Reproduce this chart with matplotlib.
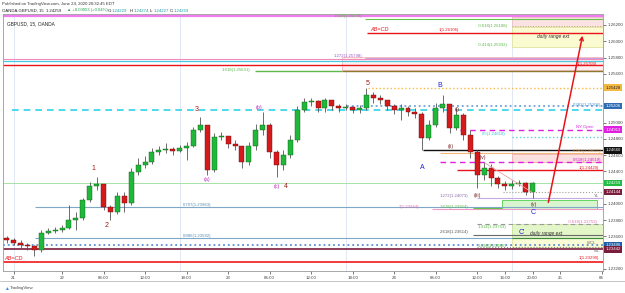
import numpy as np
import matplotlib
matplotlib.use('Agg')
import matplotlib.pyplot as plt
import matplotlib.transforms as mtransforms
from matplotlib.patches import Rectangle

plt.rcParams['font.family'] = ['Liberation Sans', 'DejaVu Sans']

# hourly bars, hours counted from 22 Jun 00:00 (chart time)
hours = list(range(-8, 69))
first_open = 1.23580
highs = [1.23605, 1.23580, 1.23556, 1.23519, 1.23494, 1.23679, 1.23704, 1.23716, 1.23741, 1.23987,
         1.23901, 1.24073, 1.24270, 1.24331, 1.24233, 1.23987, 1.24147, 1.24147, 1.24442, 1.24565,
         1.24589, 1.24688, 1.24712, 1.24749, 1.24700, 1.24725, 1.24761, 1.24946, 1.25069, 1.24970,
         1.24872, 1.24884, 1.24811, 1.24786, 1.24688, 1.24761, 1.24983, 1.25130, 1.24995, 1.24663,
         1.24663, 1.24847, 1.25204, 1.25302, 1.25302, 1.25278, 1.25302, 1.25253, 1.25229, 1.25229,
         1.25204, 1.25216, 1.25425, 1.25376, 1.25339, 1.25278, 1.25229, 1.25229, 1.25204, 1.25180,
         1.25130, 1.25032, 1.25241, 1.25339, 1.25229, 1.25180, 1.25118, 1.24909, 1.24663, 1.24515,
         1.24491, 1.24343, 1.24282, 1.24294, 1.24294, 1.24270, 1.24270]
lows = [1.23519, 1.23494, 1.23457, 1.23433, 1.23359, 1.23408, 1.23630, 1.23642, 1.23654, 1.23691,
        1.23679, 1.23802, 1.24024, 1.24171, 1.23925, 1.23802, 1.23876, 1.23901, 1.23987, 1.24355,
        1.24442, 1.24491, 1.24602, 1.24626, 1.24602, 1.24638, 1.24540, 1.24700, 1.24884, 1.24355,
        1.24392, 1.24786, 1.24688, 1.24663, 1.24442, 1.24478, 1.24663, 1.24847, 1.24565, 1.24331,
        1.24417, 1.24565, 1.24761, 1.25130, 1.25204, 1.25130, 1.25130, 1.25155, 1.25130, 1.25155,
        1.25118, 1.25118, 1.25155, 1.25241, 1.25229, 1.25155, 1.25106, 1.25032, 1.25081, 1.25057,
        1.24663, 1.24786, 1.24946, 1.25130, 1.24872, 1.24909, 1.24786, 1.24565, 1.24196, 1.24294,
        1.24220, 1.24196, 1.24171, 1.24183, 1.24220, 1.24110, 1.24073]
closes = [1.23556, 1.23519, 1.23494, 1.23482, 1.23433, 1.23642, 1.23667, 1.23679, 1.23704, 1.23802,
          1.23827, 1.24048, 1.24220, 1.24245, 1.23962, 1.23901, 1.24097, 1.24011, 1.24392, 1.24478,
          1.24515, 1.24638, 1.24663, 1.24675, 1.24651, 1.24688, 1.24712, 1.24909, 1.24970, 1.24417,
          1.24823, 1.24835, 1.24737, 1.24712, 1.24515, 1.24712, 1.24909, 1.24970, 1.24638, 1.24478,
          1.24602, 1.24786, 1.25155, 1.25253, 1.25266, 1.25180, 1.25278, 1.25204, 1.25180, 1.25192,
          1.25155, 1.25180, 1.25339, 1.25302, 1.25278, 1.25204, 1.25155, 1.25180, 1.25130, 1.25106,
          1.24811, 1.24970, 1.25180, 1.25229, 1.24934, 1.25093, 1.24847, 1.24638, 1.24355, 1.24442,
          1.24319, 1.24245, 1.24220, 1.24245, 1.24257, 1.24147, 1.24259]
opens = [first_open] + closes[:-1]

# horizontal levels: price, start hour
lvl_price = [1.26305, 1.26274, 1.26106, 1.25798, 1.25777, 1.25752, 1.25703, 1.25428, 1.25206,
             1.25149, 1.24913, 1.24818, 1.24660, 1.24627, 1.24519, 1.24420, 1.24259, 1.24144,
             1.24073, 1.23962, 1.23937, 1.23753, 1.23614, 1.23580, 1.23496, 1.23465, 1.23442, 1.23290]
lvl_start = [-9, 43.8, 44.1, 43.8, -9, -9, -9, 44.2, 41.2,
             -7.2, 57.5, 65.0, 52.2, 54.6, 54.6, 57.1, -9, 63.7,
             60.0, -3.9, 53.5, 60.0, 59.4, -3.9, -9, 60.0, -9, -9]
lvl_style = [('#f07cf0', '-', 1.6), ('#66c04a', '-', 0.8), ('#e8141a', '-', 1.0), ('#c9a0e0', '-', 0.8),
             ('#f08ab8', '-', 0.8), ('#47c9e0', '-', 0.9), ('#e8141a', '-', 1.0), ('#f5b942', ':', 1.0),
             ('#6fa0d8', ':', 1.3), ('#2ed3e8', (0, (4, 3)), 1.2), ('#e020e0', (0, (4, 3)), 1.0),
             ('#5fd0e0', ':', 1.0), ('#111111', '-', 1.0), ('#f4b77a', '-', 0.8),
             ('#e020e0', (0, (4, 3)), 1.0), ('#e8141a', '-', 1.0), ('#a6e3a6', '-', 0.7),
             ('#a0a0a0', ':', 0.8), ('#c8a8e0', '-', 0.8), ('#7fa8c8', '-', 0.8), ('#f09ac8', '-', 0.8),
             ('#9a9a9a', (0, (4, 3)), 0.8), ('#6a6a6a', '-', 0.8), ('#7fa8c8', '-', 0.8),
             ('#5b8fd0', ':', 1.3), ('#8a8a8a', ':', 0.8), ('#7a1c3c', '-', 1.2), ('#f01818', '-', 1.2)]

fib_text = ['1.618(1.26274)', '1(1.26106)', '1.272(1.25798)', '1.618(1.25631)', '0.382(1.25206)',
            '0.5(1.24818)', '0.382(1.24627)', '0.618(1.24519)', '1(1.24420)', '1.272(1.24073)',
            '1.618(1.23954)', '2(1.23944)', '0.707(1.23963)', '-0.618(1.23753)', '1.414(1.23763)',
            '2.618(1.23614)', '0.886(1.23592)', '1.618(1.23465)', '1(1.23290)', '-0.618(1.26188)',
            '-0.414(1.25932)', '1(1.25703)']
fib_h = [39.2, 54.4, 39.2, 23.1, 73.8, 60.7, 73.8, 73.8, 74.6, 54.6,
         54.6, 48.6, 17.5, 73.1, 60.1, 54.6, 17.5, 60.1, 74.6, 60.1, 60.1, 74.4]
fib_p = [1.26308, 1.26140, 1.25820, 1.25648, 1.25222, 1.24860, 1.24645, 1.24536, 1.24440, 1.24092,
         1.23962, 1.23962, 1.23985, 1.23780, 1.23718, 1.23653, 1.23610, 1.23480, 1.23330, 1.26188,
         1.25955, 1.25725]
fib_col = ['#5cb848', '#e8141a', '#9a5ac8', '#5cb848', '#4a90d0', '#3fc0d8', '#e09a50', '#d020d0',
           '#e8141a', '#8a6aa8', '#5cb848', '#e070b0', '#5a8ab0', '#e070b0', '#5cb848', '#555555',
           '#5a8ab0', '#5cb848', '#e8141a', '#5cb848', '#5cb848', '#e8141a']

# wave labels
wave_text = ['1', '2', '3', '4', '5', '(a)', '(b)', '(c)', 'A', 'B', 'C',
             '(i)', '(ii)', '(iii)', '(iv)', '(v)', "C'"]
wave_h = [4.5, 6.5, 19.5, 32.4, 44.1, 21.0, 28.5, 31.1, 52.0, 54.6, 68.1,
          57.1, 56.1, 60.0, 60.8, 68.1, 66.5]
wave_p = [1.24430, 1.23740, 1.25160, 1.24220, 1.25475, 1.24300, 1.25185, 1.24220, 1.24450, 1.25460, 1.23900,
          1.25160, 1.24700, 1.24100, 1.24570, 1.23993, 1.23645]
wave_col = ['#9b1b1b'] * 5 + ['#c020c0'] * 3 + ['#2020d0'] * 3 + ['#7b1f1f'] * 5 + ['#2020d0']

axis_ticks = [1.262, 1.260, 1.258, 1.256, 1.250, 1.248, 1.246, 1.244, 1.240, 1.238, 1.236, 1.232]
tag_price = [1.25428, 1.25206, 1.24913, 1.24660, 1.24259, 1.24144, 1.23496, 1.23442]
tag_col = ['#f5b942', '#2e6db4', '#e020e0', '#111111', '#22bb44', '#7a1c3c', '#1f5fa8', '#7a1c3c']

time_ticks = [-7, 0, 6, 12, 18, 24, 30, 36, 42, 48, 54, 60, 64, 68, 72, 78]
time_labels = ['21', '22', '06:00', '12:00', '18:00', '23', '06:00', '12:00', '18:00',
               '24', '06:00', '12:00', '16:00', '20:00', '25', '06']
session_breaks = [-7, 17, 41, 65]

trend_h = [61.1, 68.1]
trend_p = [1.24503, 1.24134]
arrow_from = (70.2, 1.23985)
arrow_to = (75.3, 1.26102)

W, H = 625, 293
fig = plt.figure(figsize=(W / 100, H / 100), dpi=100)
ax = fig.add_axes([3 / W, 1 - 271 / H, 600 / W, 257 / H])
x0, x1 = -8.53, 78.18
ax.set_xlim(x0, x1)
ax.set_ylim(1.23175, 1.26335)

for s in session_breaks:
    ax.axvline(s, color='#dde3f3', lw=0.6, zorder=0)

# boxes
def box(h0, h1, p0, p1, fc, ec, z=1):
    ax.add_patch(Rectangle((h0, p0), h1 - h0, p1 - p0, facecolor=fc, edgecolor=ec, lw=0.6, zorder=z))

box(65, x1, 1.26175, 1.26298, '#fbe3e3', '#eac0c0')
box(65, x1, 1.25929, 1.26175, '#fbfbd2', '#dfe6a0')
ax.hlines(1.26188, 65, x1, colors='#b8a860', linestyles=':', lw=0.7, zorder=2)
box(40.5, x1, 1.25642, 1.25802, '#fdf0f1', '#f2b6bd')
box(65, x1, 1.24515, 1.24610, '#fbe0e0', '#f0b0b0')
box(63.6, 77.3, 1.23937, 1.24048, '#d8f5d0', '#4cd04c', z=2)
box(65, x1, 1.23580, 1.23753, '#e2f6c8', '#c8e0a0')
box(65, x1, 1.23470, 1.23580, '#fafcd6', '#e0e6a8')

for p, st, (c, ls, lw) in zip(lvl_price, lvl_start, lvl_style):
    ax.hlines(p, max(st, x0), x1, colors=c, linestyles=ls, lw=lw, zorder=2)
# extra segments
ax.hlines(1.25631, 27.9, 40.5, colors='#5cb848', lw=1.0, zorder=2)
ax.hlines(1.25631, 40.5, x1, colors='#8a7a2a', lw=1.0, zorder=2)
ax.hlines(1.23954, 59.4, 63.6, colors='#66c04a', lw=0.8, zorder=2)
ax.hlines(1.23580, 65, x1, colors='#3c8c3c', lw=0.8, zorder=2)

# candles
for h, o, hi, lo, c in zip(hours, opens, highs, lows, closes):
    up = c >= o
    ax.vlines(h, lo, hi, color='#555555', lw=0.6, zorder=3)
    ax.add_patch(Rectangle((h - 0.36, min(o, c)), 0.72, max(abs(c - o), 0.00004),
                           facecolor='#1fb83a' if up else '#d41a1a',
                           edgecolor='#145a14' if up else '#6a0c0c', lw=0.3, zorder=4))

ax.plot(trend_h, trend_p, color='#f0a0a0', lw=0.6, zorder=5)
ax.annotate('', xy=arrow_to, xytext=arrow_from,
            arrowprops=dict(arrowstyle='->', color='#e8141a', lw=1.1, mutation_scale=6), zorder=6)

fs = 3.1
for t, h, p, c in zip(fib_text, fib_h, fib_p, fib_col):
    ax.text(h, p, t, fontsize=fs, color=c, ha='left', va='center', zorder=6)

ax.text(44.5, 1.26150, 'AB=CD', fontsize=4, color='#e8141a', style='italic', va='center', zorder=6)
ax.text(-8.3, 1.23325, 'AB=CD', fontsize=4, color='#e8141a', style='italic', va='center', zorder=6)
ax.text(71.0, 1.26055, 'daily range ext', fontsize=3.6, color='#333333', style='italic',
        ha='center', va='center', zorder=6)
ax.text(70.0, 1.23635, 'daily range ext', fontsize=3.6, color='#333333', style='italic',
        ha='center', va='center', zorder=6)
ax.text(75.5, 1.24940, 'NY Open', fontsize=fs, color='#e020e0', ha='center', va='center', zorder=6)
for t, h, p in [('YL', 77.3, 1.24100), ('WCL', 76.5, 1.23515), ('WL', 77.3, 1.23420)]:
    ax.text(h, p, t, fontsize=fs, color='#666666', ha='center', va='center', zorder=6)
ax.text(-7.9, 1.26215, 'GBPUSD, 15, OANDA', fontsize=3.4, color='#222222', va='center')

for t, h, p, c in zip(wave_text, wave_h, wave_p, wave_col):
    big = t in ('A', 'B', 'C', "C'") or t.isdigit()
    ax.text(h, p, t, fontsize=5 if big else 3.8, color=c, ha='center', va='center', zorder=7)

# axes styling
ax.yaxis.tick_right()
ax.set_yticks(axis_ticks)
ax.set_yticklabels(['%.5f' % v for v in axis_ticks])
ax.set_xticks(time_ticks)
ax.set_xticklabels(time_labels)
ax.tick_params(labelsize=3.2, colors='#444444', length=2, width=0.5, pad=1.5)
for s in ax.spines.values():
    s.set_color('#999999')
    s.set_linewidth(0.6)

tr = mtransforms.blended_transform_factory(ax.transAxes, ax.transData)
for p, c in zip(tag_price, tag_col):
    ax.text(1.004, p, '%.5f' % p, transform=tr, fontsize=3.1, color='#222222' if c == '#f5b942' else 'white',
            va='center', ha='left', zorder=8, clip_on=False,
            bbox=dict(boxstyle='square,pad=0.3', fc=c, ec='none'))

# header
fig.text(2 / W, 1 - 4 / H, 'Published on TradingView.com, June 24, 2020 20:32:45 EDT',
         fontsize=3.1, color='#333333', va='center')
parts = [('OANDA:GBPUSD, 15  1.24259', '#222222', 2), ('\u25b2 +0.00053 (+0.04%)', '#18a04a', 67),
         ('O:', '#222222', 108), ('1.24229', '#18a0a0', 112), ('H:', '#222222', 130),
         ('1.24274', '#18a0a0', 134), ('L:', '#222222', 150), ('1.24227', '#18a0a0', 154),
         ('C:', '#222222', 170), ('1.24259', '#18a0a0', 174)]
for t, c, px in parts:
    fig.text(px / W, 1 - 10.5 / H, t, fontsize=3.1, color=c, va='center')

fig.add_artist(plt.Line2D([0, 1], [1 - 281 / H, 1 - 281 / H], color='#bbbbbb', lw=0.6))
fig.text(4 / W, 1 - 288 / H, '\u25b2', fontsize=3.5, color='#2a8ff0', va='center')
fig.text(10 / W, 1 - 288 / H, 'TradingView', fontsize=3.2, color='#444444', va='center')

fig.savefig('out.png', dpi=100)
